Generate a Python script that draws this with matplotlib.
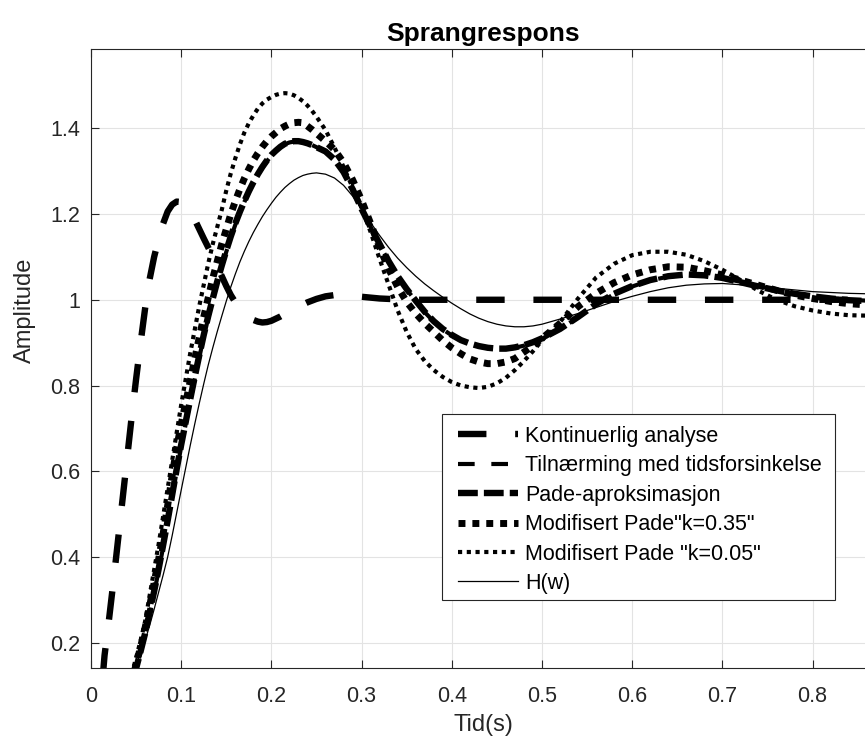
import numpy as np
import matplotlib
matplotlib.use("Agg")
import matplotlib.pyplot as plt
from matplotlib.patches import Rectangle

plt.rcParams['font.family'] = ['Liberation Sans', 'DejaVu Sans']

# sample times (s)
t = np.concatenate([np.arange(0, 0.2501, 0.005),
                    np.arange(0.26, 0.5001, 0.01),
                    np.arange(0.52, 0.8801, 0.02)])

# step responses
kontinuerlig = [0.000, 0.000, 0.045, 0.170, 0.255, 0.345, 0.440, 0.535, 0.630, 0.725,
                0.815, 0.900, 0.980, 1.048, 1.100, 1.142, 1.178, 1.206, 1.222, 1.229,
                1.228, 1.220, 1.206, 1.187, 1.165, 1.143, 1.122, 1.101, 1.078, 1.055,
                1.032, 1.011, 0.994, 0.980, 0.969, 0.960, 0.953, 0.949, 0.947, 0.948,
                0.951, 0.956, 0.961, 0.967, 0.973, 0.979, 0.984, 0.989, 0.994, 0.998, 1.002,
                1.008, 1.011, 1.012, 1.010, 1.007, 1.005, 1.003, 1.002, 1.001, 1.000,
                1.000, 1.000, 1.000, 1.000, 1.000, 1.000, 1.000, 1.000, 1.000, 1.000,
                1.000, 1.000, 1.000, 1.000, 1.000,
                1.000, 1.000, 1.000, 1.000, 1.000, 1.000, 1.000, 1.000, 1.000, 1.000,
                1.000, 1.000, 1.000, 1.000, 1.000, 1.000, 1.000, 1.000, 1.000]

tilnaerming = [0, 0, 0, 0, 0, 0.002, 0.010, 0.026, 0.053, 0.092,
               0.137, 0.177, 0.219, 0.266, 0.316, 0.368, 0.423, 0.480, 0.540, 0.600,
               0.657, 0.710, 0.763, 0.815, 0.865, 0.913, 0.958, 1.000, 1.040, 1.077,
               1.112, 1.145, 1.175, 1.203, 1.228, 1.251, 1.272, 1.291, 1.308, 1.323,
               1.336, 1.347, 1.356, 1.363, 1.367, 1.369, 1.369, 1.368, 1.365, 1.361, 1.356,
               1.346, 1.327, 1.298, 1.260, 1.215, 1.170, 1.128, 1.090, 1.055, 1.024,
               0.997, 0.971, 0.949, 0.931, 0.917, 0.905, 0.897, 0.891, 0.887, 0.885,
               0.885, 0.888, 0.893, 0.900, 0.909,
               0.931, 0.959, 0.989, 1.013, 1.031, 1.045, 1.054, 1.058, 1.057, 1.051,
               1.042, 1.032, 1.023, 1.015, 1.009, 1.004, 1.000, 0.998, 0.997]

pade = [0, 0, 0, 0, 0, 0.002, 0.010, 0.027, 0.055, 0.095,
        0.140, 0.180, 0.222, 0.270, 0.320, 0.372, 0.428, 0.485, 0.545, 0.605,
        0.662, 0.715, 0.768, 0.820, 0.870, 0.918, 0.962, 1.003, 1.043, 1.080,
        1.115, 1.148, 1.178, 1.205, 1.230, 1.253, 1.274, 1.293, 1.310, 1.325,
        1.338, 1.348, 1.357, 1.364, 1.368, 1.370, 1.370, 1.368, 1.365, 1.361, 1.356,
        1.346, 1.327, 1.298, 1.258, 1.212, 1.170, 1.130, 1.090, 1.055, 1.025,
        0.998, 0.972, 0.950, 0.932, 0.918, 0.906, 0.898, 0.892, 0.888, 0.886,
        0.886, 0.889, 0.894, 0.901, 0.910,
        0.932, 0.960, 0.990, 1.014, 1.032, 1.046, 1.055, 1.059, 1.057, 1.051,
        1.041, 1.031, 1.022, 1.014, 1.008, 1.003, 0.999, 0.997, 0.996]

mod_k035 = [0, 0, 0, 0, 0, 0.003, 0.012, 0.030, 0.060, 0.105,
            0.150, 0.190, 0.235, 0.285, 0.340, 0.395, 0.455, 0.520, 0.590, 0.655,
            0.710, 0.760, 0.810, 0.862, 0.912, 0.960, 1.005, 1.050, 1.090, 1.130,
            1.165, 1.200, 1.230, 1.258, 1.283, 1.305, 1.325, 1.342, 1.357, 1.370,
            1.381, 1.390, 1.399, 1.405, 1.410, 1.413, 1.414, 1.413, 1.405, 1.397, 1.388,
            1.370, 1.350, 1.320, 1.280, 1.232, 1.178, 1.122, 1.072, 1.030, 0.995,
            0.968, 0.945, 0.925, 0.905, 0.888, 0.874, 0.862, 0.855, 0.851, 0.851,
            0.855, 0.863, 0.878, 0.893, 0.910,
            0.945, 0.984, 1.015, 1.040, 1.058, 1.070, 1.077, 1.076, 1.068, 1.058,
            1.046, 1.034, 1.022, 1.011, 1.003, 0.996, 0.991, 0.988, 0.986]

mod_k005 = [0, 0, 0, 0, 0, 0.005, 0.015, 0.035, 0.075, 0.125,
            0.165, 0.205, 0.250, 0.310, 0.370, 0.430, 0.495, 0.560, 0.625, 0.690,
            0.755, 0.815, 0.875, 0.930, 0.985, 1.035, 1.085, 1.130, 1.170, 1.210,
            1.255, 1.295, 1.330, 1.362, 1.390, 1.412, 1.430, 1.446, 1.458, 1.467,
            1.473, 1.478, 1.481, 1.482, 1.481, 1.477, 1.471, 1.463, 1.453, 1.441, 1.427,
            1.396, 1.355, 1.310, 1.262, 1.215, 1.158, 1.095, 1.035, 0.975, 0.925,
            0.885, 0.857, 0.836, 0.820, 0.808, 0.800, 0.796, 0.794, 0.797, 0.805,
            0.818, 0.836, 0.857, 0.880, 0.905,
            0.948, 1.003, 1.052, 1.084, 1.104, 1.112, 1.112, 1.105, 1.090, 1.070,
            1.046, 1.021, 1.000, 0.985, 0.975, 0.968, 0.964, 0.963, 0.963]

h_w = [0, 0, 0, 0, 0, 0, 0.005, 0.015, 0.040, 0.080,
       0.150, 0.175, 0.205, 0.240, 0.278, 0.318, 0.358, 0.400, 0.450, 0.503,
       0.556, 0.608, 0.660, 0.710, 0.758, 0.804, 0.848, 0.888, 0.926, 0.962,
       0.997, 1.030, 1.060, 1.088, 1.113, 1.136, 1.157, 1.176, 1.194, 1.210,
       1.225, 1.239, 1.251, 1.262, 1.271, 1.279, 1.285, 1.290, 1.293, 1.295, 1.296,
       1.293, 1.284, 1.267, 1.242, 1.212, 1.180, 1.150, 1.122, 1.097, 1.075,
       1.055, 1.037, 1.021, 1.006, 0.992, 0.979, 0.967, 0.957, 0.949, 0.943,
       0.939, 0.937, 0.937, 0.939, 0.943,
       0.955, 0.968, 0.982, 0.996, 1.008, 1.019, 1.028, 1.034, 1.037, 1.038,
       1.035, 1.031, 1.027, 1.023, 1.019, 1.017, 1.015, 1.014, 1.013]

labels = ['Kontinuerlig analyse', 'Tilnærming med tidsforsinkelse',
          'Pade-aproksimasjon', 'Modifisert Pade"k=0.35"',
          'Modifisert Pade "k=0.05"', 'H(w)']

xticks = [0, 0.1, 0.2, 0.3, 0.4, 0.5, 0.6, 0.7, 0.8]
yticks = [0.2, 0.4, 0.6, 0.8, 1.0, 1.2, 1.4]
ytick_labels = ['0.2', '0.4', '0.6', '0.8', '1', '1.2', '1.4']

W, H = 865, 742
fig = plt.figure(figsize=(W / 100, H / 100), dpi=100)
# axes runs a little past the right edge of the picture (cropped like the original)
ax = fig.add_axes([91 / W, 74 / H, 784 / W, 619 / H])

ax.plot(t, kontinuerlig, color='k', lw=4.6, dashes=(4.45, 4.5), label=labels[0])
ax.plot(t, tilnaerming, color='k', lw=3.0, dashes=(4.0, 4.0), label=labels[1])
ax.plot(t, pade, color='k', lw=4.6, dashes=(3.1, 0.95), label=labels[2])
ax.plot(t, mod_k035, color='k', lw=5.0, dashes=(1.0, 1.0), label=labels[3])
ax.plot(t, mod_k005, color='k', lw=3.0, dashes=(1.0, 1.1), label=labels[4])
ax.plot(t, h_w, color='k', lw=0.9, label=labels[5])

ax.set_xlim(0, 0.8692)
ax.set_ylim(0.141, 1.585)
ax.set_xticks(xticks)
ax.set_xticklabels([f'{v:g}' for v in xticks])
ax.set_yticks(yticks)
ax.set_yticklabels(ytick_labels)
ax.grid(True, color='#e3e3e3', lw=0.8)
ax.set_axisbelow(True)
for s in ax.spines.values():
    s.set_color('#262626')
    s.set_linewidth(0.8)
ax.tick_params(direction='in', length=5.5, width=0.8, colors='#262626',
               labelsize=15.5, top=True, right=True)
ax.tick_params(axis='x', pad=13)
ax.tick_params(axis='y', pad=8)

ax.set_title('Sprangrespons', fontsize=19, fontweight='bold', pad=6)
ax.set_xlabel('Tid(s)', fontsize=17, color='#262626')
ax.set_ylabel('Amplitude', fontsize=17, color='#262626')
ax.xaxis.set_label_coords(0.5, (668 - 714) / 619)
ax.yaxis.set_label_coords((36 - 91) / 784, (668 - 310) / 619)

# legend box drawn separately so its padding can match the original
box = Rectangle((441.7 / W, 1 - 600 / H), (835 - 441.7) / W, (600 - 414) / H,
                transform=fig.transFigure, facecolor='white', edgecolor='#262626',
                lw=0.8, zorder=4.5)
ax.add_artist(box)
leg = ax.legend(loc='upper left', bbox_to_anchor=((458 - 91) / 784, (668 - 426) / 619),
                borderaxespad=0, borderpad=0, fontsize=15.5, handlelength=2.8,
                handletextpad=0.33, labelspacing=0.39, frameon=False)
leg.set_zorder(5)

fig.savefig('out.png', dpi=100)
